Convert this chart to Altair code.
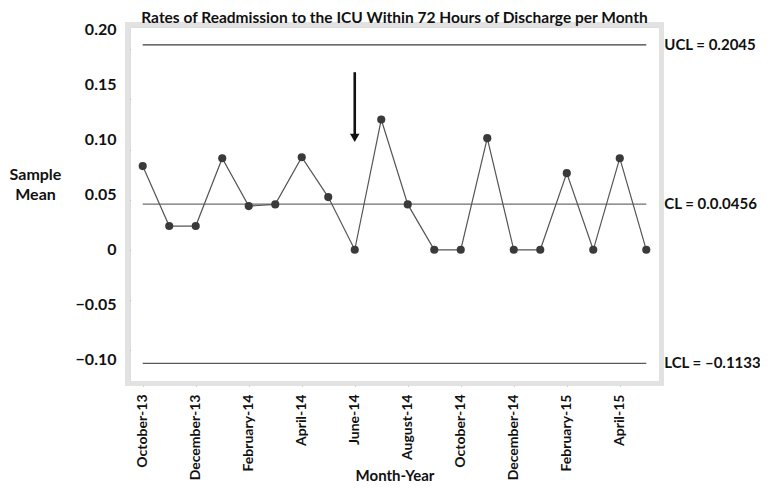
import json
import altair as alt
import pandas as pd

months = ["October-13", "November-13", "December-13", "January-14", "February-14",
          "March-14", "April-14", "May-14", "June-14", "July-14", "August-14",
          "September-14", "October-14", "November-14", "December-14", "January-15",
          "February-15", "March-15", "April-15", "May-15"]
sample_mean = [0.0835, 0.0237, 0.0237, 0.0914, 0.0436, 0.0453, 0.0924, 0.0526, 0.0,
               0.130, 0.0453, 0.0, 0.0, 0.1114, 0.0, 0.0, 0.0765, 0.0, 0.0914, 0.0]
limit_names = ["UCL", "CL", "LCL"]
limit_values = [0.2045, 0.0456, -0.1133]
limit_labels = ["UCL = 0.2045", "CL = 0.0.0456", "LCL = \u20130.1133"]
y_tick_values = [0.20, 0.15, 0.10, 0.05, 0.0, -0.05, -0.10]
x_tick_index = [0, 2, 4, 6, 8, 10, 12, 14, 16, 18]
arrow_month = 8
arrow_top, arrow_bottom, arrow_head = 0.1772, 0.1152, 0.1117

W, H = 529, 354
FONT = "Lato"

df = pd.DataFrame({"i": list(range(len(months))), "month": months, "v": sample_mean})
lim = pd.DataFrame({"name": limit_names, "v": limit_values, "label": limit_labels,
                    "i0": 0, "i1": len(months) - 1})
ticks_df = pd.DataFrame({"v": y_tick_values})
arrow_df = pd.DataFrame({"i": [arrow_month], "top": [arrow_top], "bot": [arrow_bottom],
                         "head": [arrow_head]})

xscale = alt.Scale(domain=[-0.48, len(months) - 1 + 0.48], nice=False, zero=False)
yscale = alt.Scale(domain=[-0.1309, 0.2223], nice=False, zero=False)

month_expr = json.dumps(months) + "[datum.value]"
xaxis = alt.Axis(values=x_tick_index, labelExpr=month_expr, labelAngle=-90,
                 labelAlign="right", labelBaseline="middle", labelPadding=8,
                 labelFont=FONT, labelFontSize=14, labelFontWeight="bold",
                 labelColor="#111", tickColor="#9a9a9a", tickSize=5, domain=False,
                 grid=False, title="Month-Year", titleFont=FONT, titleFontSize=15,
                 titleFontWeight="bold", titleColor="#111", titleY=94,
                 titleBaseline="middle")
ytick_axis = alt.Axis(values=y_tick_values, labels=False, ticks=True, tickSize=4,
                      tickColor="#9a9a9a", domain=False, grid=False, title=None,
                      orient="left")

x_enc = alt.X("i:Q", scale=xscale, axis=xaxis)

frame_outer = alt.Chart(df).mark_rect(filled=False, stroke="#e2e2e2", strokeWidth=4).encode(
    x=alt.value(-2.5), x2=alt.value(W + 2.5), y=alt.value(-2.5), y2=alt.value(H + 2.5))

rules = alt.Chart(lim).mark_rule().encode(
    x=x_enc, x2="i1:Q",
    y=alt.Y("v:Q", scale=yscale, axis=ytick_axis),
    color=alt.Color("name:N", scale=alt.Scale(domain=limit_names,
                    range=["#3c3c3c", "#6e6e6e", "#5a5a5a"]), legend=None),
    strokeWidth=alt.StrokeWidth("name:N", scale=alt.Scale(domain=limit_names,
                    range=[1.3, 1.3, 2.4]), legend=None),
).encode(x="i0:Q")

line = alt.Chart(df).mark_line(color="#555555", strokeWidth=1.2).encode(
    x=x_enc, y=alt.Y("v:Q", scale=yscale))
points = alt.Chart(df).mark_point(filled=True, shape="circle", size=66, color="#3a3a3a",
                                  opacity=1).encode(x=x_enc, y=alt.Y("v:Q", scale=yscale))

limit_text = alt.Chart(lim).mark_text(align="left", baseline="middle", dx=18, font=FONT,
                                      fontSize=15, fontWeight="bold", color="#111").encode(
    x="i1:Q", y=alt.Y("v:Q", scale=yscale), text="label:N")

arrow_shaft = alt.Chart(arrow_df).mark_rule(color="#111", strokeWidth=2.6).encode(
    x="i:Q", y=alt.Y("top:Q", scale=yscale), y2="bot:Q")
arrow_tip = alt.Chart(arrow_df).mark_point(shape="triangle-down", filled=True, size=90,
                                           color="#111", opacity=1).encode(
    x="i:Q", y=alt.Y("head:Q", scale=yscale))

main = alt.layer(frame_outer, rules, line, points, limit_text, arrow_shaft, arrow_tip)

label_axis = alt.Axis(values=y_tick_values,
                      labelExpr="datum.value == 0 ? '0' : replace(format(datum.value, '.2f'), '-', '\u2013')",
                      labelFont=FONT, labelFontSize=16, labelFontWeight="bold",
                      labelColor="#111", labelPadding=14, ticks=False, domain=False,
                      grid=False, orient="left",
                      title=["Sample", "Mean"], titleAngle=0, titleAlign="center",
                      titleBaseline="middle", titleFont=FONT, titleFontSize=16,
                      titleFontWeight="bold", titleColor="#111", titleX=-95, titleY=147,
                      titleLineHeight=20)
labels_layer = alt.Chart(ticks_df).mark_point(opacity=0).encode(
    x=alt.X("v:Q", scale=alt.Scale(domain=[0, 1]), axis=None),
    y=alt.Y("v:Q", scale=alt.Scale(domain=[-0.1195, 0.2025], nice=False, zero=False),
            axis=label_axis))

chart = alt.layer(main, labels_layer).resolve_scale(y="independent", x="independent").properties(
    width=W, height=H,
    title=alt.TitleParams("Rates of Readmission to the ICU Within 72 Hours of Discharge per Month",
                          font=FONT, fontSize=15.5, fontWeight="bold", color="#111",
                          anchor="middle", offset=-5),
    autosize=alt.AutoSizeParams(type="none"),
    padding={"left": 122, "top": 19, "right": 101, "bottom": 102},
).configure_view(stroke="#a4a4a4", strokeWidth=1.5).configure(background="white")

chart.save("out.html", embed_options={"renderer": "svg", "actions": False})
